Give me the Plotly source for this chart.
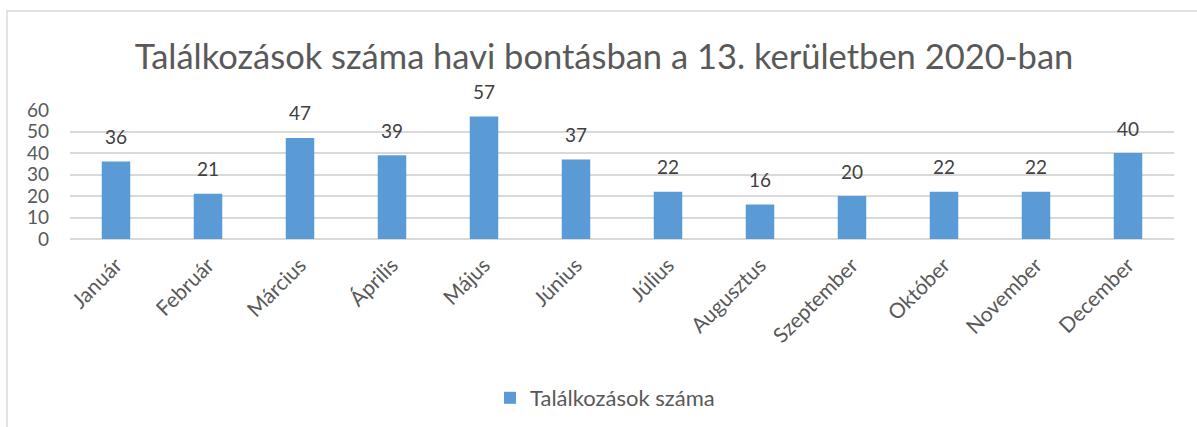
import plotly.graph_objects as go

months = ["Január", "Február", "Március", "Április", "Május", "Június",
          "Július", "Augusztus", "Szeptember", "Október", "November", "December"]
counts = [36, 21, 47, 39, 57, 37, 22, 16, 20, 22, 22, 40]
series_name = "Találkozások száma"
title_text = "Találkozások száma havi bontásban a 13. kerületben 2020-ban"

FONT = "Lato, 'Open Sans', sans-serif"
BLUE = "#5B9BD5"

W, H = 1197, 427
ml, mr, mt, mb = 70, 23, 110, 188
pw, ph = W - ml - mr, H - mt - mb

def px_to_paper_x(px):
    return (px - ml) / pw

def px_to_paper_y(py):
    return (H - mb - py) / ph

fig = go.Figure()
fig.add_trace(go.Bar(
    x=months, y=counts, name=series_name,
    marker=dict(color=BLUE, line=dict(width=0)),
    width=0.31,
))

for m, v in zip(months, counts):
    fig.add_annotation(x=m, y=v, text=str(v), showarrow=False,
                       xref="x", yref="y", yanchor="middle", yshift=25,
                       font=dict(family=FONT, size=19, color="#404040"))

fig.update_layout(
    width=W, height=H,
    margin=dict(l=ml, r=mr, t=mt, b=mb, autoexpand=False),
    paper_bgcolor="white", plot_bgcolor="white",
    title=dict(text=title_text, x=604 / W, xanchor="center", xref="container",
               y=1 - 57 / H, yanchor="middle", yref="container",
               font=dict(family=FONT, size=34.5, color="#595959")),
    showlegend=True,
    legend=dict(orientation="h", x=605 / W, xanchor="center", xref="container",
                y=1 - 398 / H, yanchor="middle", yref="container",
                font=dict(family=FONT, size=22, color="#595959"),
                itemsizing="constant", itemwidth=30),
    xaxis=dict(tickangle=-45, tickfont=dict(family=FONT, size=21, color="#595959"),
               showgrid=False, showline=False, ticks="", automargin=False,
               ticklabelstandoff=9),
    yaxis=dict(range=[0, 60], dtick=10, tickfont=dict(family=FONT, size=19, color="#595959"),
               showgrid=True, gridcolor="#d9d9d9", gridwidth=1.5,
               zeroline=True, zerolinecolor="#d9d9d9", zerolinewidth=1.5,
               ticks="", ticklabelstandoff=20, automargin=False),
    bargap=0.69,
)

# chart border (top and left edges visible in reference)
fig.add_shape(type="rect", xref="paper", yref="paper",
              x0=px_to_paper_x(7), x1=px_to_paper_x(1200),
              y0=px_to_paper_y(440), y1=px_to_paper_y(11),
              line=dict(color="#d9d9d9", width=1.5), fillcolor="rgba(0,0,0,0)", layer="below")

fig.write_html("out.html", config={"displayModeBar": False},
               post_script="document.body.style.margin='0';")
